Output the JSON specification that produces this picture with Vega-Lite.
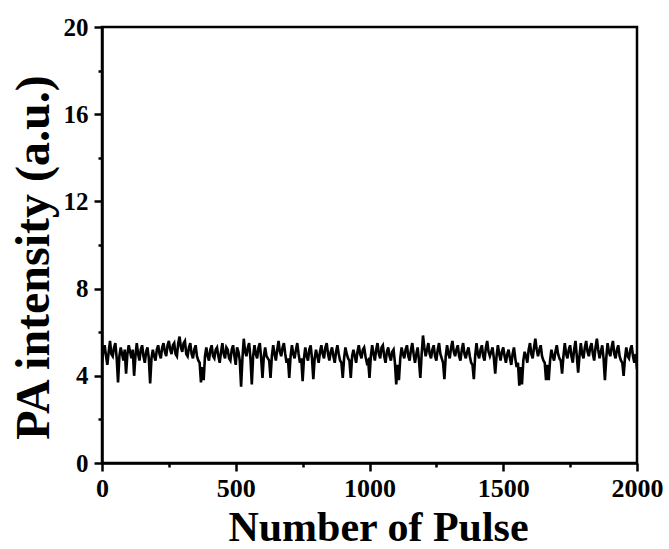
{
  "$schema": "https://vega.github.io/schema/vega-lite/v6.json",
  "autosize": {"type": "none"},
  "width": 535,
  "height": 436,
  "padding": {"left": 102, "top": 27, "right": 32, "bottom": 86},
  "background": "white",
  "config": {
    "view": {"stroke": "black", "strokeWidth": 2.5},
    "axis": {"grid": false}
  },
  "data": {"values": [
    {"pulse":0,"pa":4.6},{"pulse":5,"pa":5.2},{"pulse":10,"pa":5.4},{"pulse":15,"pa":4.9},{"pulse":20,"pa":4.5},{"pulse":25,"pa":5.1},{"pulse":30,"pa":5.6},{"pulse":35,"pa":5.0},{"pulse":40,"pa":4.9},{"pulse":45,"pa":5.3},
    {"pulse":50,"pa":5.5},{"pulse":55,"pa":4.8},{"pulse":60,"pa":3.7},{"pulse":65,"pa":4.9},{"pulse":70,"pa":5.3},{"pulse":75,"pa":5.0},{"pulse":80,"pa":4.7},{"pulse":85,"pa":5.2},{"pulse":90,"pa":4.1},{"pulse":95,"pa":5.0},
    {"pulse":100,"pa":5.4},{"pulse":105,"pa":5.1},{"pulse":110,"pa":4.8},{"pulse":115,"pa":5.2},{"pulse":120,"pa":4.0},{"pulse":125,"pa":4.9},{"pulse":130,"pa":5.5},{"pulse":135,"pa":5.0},{"pulse":140,"pa":4.7},{"pulse":145,"pa":5.2},
    {"pulse":150,"pa":5.4},{"pulse":155,"pa":4.9},{"pulse":160,"pa":4.6},{"pulse":165,"pa":5.1},{"pulse":170,"pa":5.3},{"pulse":175,"pa":4.8},{"pulse":180,"pa":3.65},{"pulse":185,"pa":4.8},{"pulse":190,"pa":5.2},{"pulse":195,"pa":4.9},
    {"pulse":200,"pa":4.7},{"pulse":205,"pa":5.2},{"pulse":210,"pa":5.4},{"pulse":215,"pa":5.0},{"pulse":220,"pa":4.8},{"pulse":225,"pa":5.3},{"pulse":230,"pa":5.5},{"pulse":235,"pa":5.1},{"pulse":240,"pa":4.9},{"pulse":245,"pa":5.4},
    {"pulse":250,"pa":5.6},{"pulse":255,"pa":5.2},{"pulse":260,"pa":5.0},{"pulse":265,"pa":5.4},{"pulse":270,"pa":5.5},{"pulse":275,"pa":5.0},{"pulse":280,"pa":4.9},{"pulse":285,"pa":5.5},{"pulse":290,"pa":5.8},{"pulse":295,"pa":5.3},
    {"pulse":300,"pa":5.1},{"pulse":305,"pa":5.5},{"pulse":310,"pa":5.6},{"pulse":315,"pa":5.0},{"pulse":320,"pa":4.9},{"pulse":325,"pa":5.3},{"pulse":330,"pa":5.5},{"pulse":335,"pa":5.0},{"pulse":340,"pa":4.8},{"pulse":345,"pa":5.2},
    {"pulse":350,"pa":5.4},{"pulse":355,"pa":4.9},{"pulse":360,"pa":4.7},{"pulse":365,"pa":4.6},{"pulse":370,"pa":3.7},{"pulse":375,"pa":4.4},{"pulse":380,"pa":3.8},{"pulse":385,"pa":4.9},{"pulse":390,"pa":5.3},{"pulse":395,"pa":4.9},
    {"pulse":400,"pa":4.7},{"pulse":405,"pa":5.2},{"pulse":410,"pa":5.4},{"pulse":415,"pa":4.9},{"pulse":420,"pa":4.8},{"pulse":425,"pa":5.2},{"pulse":430,"pa":5.3},{"pulse":435,"pa":4.9},{"pulse":440,"pa":4.6},{"pulse":445,"pa":5.1},
    {"pulse":450,"pa":5.5},{"pulse":455,"pa":5.0},{"pulse":460,"pa":4.8},{"pulse":465,"pa":5.3},{"pulse":470,"pa":5.2},{"pulse":475,"pa":4.8},{"pulse":480,"pa":4.7},{"pulse":485,"pa":5.2},{"pulse":490,"pa":5.4},{"pulse":495,"pa":4.9},
    {"pulse":500,"pa":4.5},{"pulse":505,"pa":5.3},{"pulse":510,"pa":5.1},{"pulse":515,"pa":4.7},{"pulse":520,"pa":3.5},{"pulse":525,"pa":4.8},{"pulse":530,"pa":5.7},{"pulse":535,"pa":5.1},{"pulse":540,"pa":4.9},{"pulse":545,"pa":5.3},
    {"pulse":550,"pa":5.5},{"pulse":555,"pa":4.8},{"pulse":560,"pa":3.6},{"pulse":565,"pa":4.9},{"pulse":570,"pa":5.4},{"pulse":575,"pa":5.0},{"pulse":580,"pa":4.8},{"pulse":585,"pa":5.3},{"pulse":590,"pa":5.5},{"pulse":595,"pa":4.8},
    {"pulse":600,"pa":3.9},{"pulse":605,"pa":4.9},{"pulse":610,"pa":5.3},{"pulse":615,"pa":4.9},{"pulse":620,"pa":4.8},{"pulse":625,"pa":4.7},{"pulse":630,"pa":3.9},{"pulse":635,"pa":4.9},{"pulse":640,"pa":5.4},{"pulse":645,"pa":5.0},
    {"pulse":650,"pa":4.7},{"pulse":655,"pa":5.2},{"pulse":660,"pa":5.6},{"pulse":665,"pa":5.1},{"pulse":670,"pa":4.9},{"pulse":675,"pa":5.3},{"pulse":680,"pa":5.5},{"pulse":685,"pa":5.0},{"pulse":690,"pa":4.6},{"pulse":695,"pa":4.8},
    {"pulse":700,"pa":3.9},{"pulse":705,"pa":4.9},{"pulse":710,"pa":5.4},{"pulse":715,"pa":5.0},{"pulse":720,"pa":4.8},{"pulse":725,"pa":5.2},{"pulse":730,"pa":5.5},{"pulse":735,"pa":5.0},{"pulse":740,"pa":4.6},{"pulse":745,"pa":4.8},
    {"pulse":750,"pa":3.75},{"pulse":755,"pa":4.8},{"pulse":760,"pa":5.3},{"pulse":765,"pa":4.9},{"pulse":770,"pa":4.7},{"pulse":775,"pa":5.2},{"pulse":780,"pa":5.4},{"pulse":785,"pa":4.8},{"pulse":790,"pa":3.85},{"pulse":795,"pa":4.8},
    {"pulse":800,"pa":5.2},{"pulse":805,"pa":4.9},{"pulse":810,"pa":4.6},{"pulse":815,"pa":5.1},{"pulse":820,"pa":5.4},{"pulse":825,"pa":5.0},{"pulse":830,"pa":4.8},{"pulse":835,"pa":5.3},{"pulse":840,"pa":5.5},{"pulse":845,"pa":5.0},
    {"pulse":850,"pa":4.7},{"pulse":855,"pa":5.1},{"pulse":860,"pa":5.3},{"pulse":865,"pa":4.9},{"pulse":870,"pa":4.6},{"pulse":875,"pa":5.1},{"pulse":880,"pa":5.4},{"pulse":885,"pa":5.0},{"pulse":890,"pa":4.7},{"pulse":895,"pa":4.6},
    {"pulse":900,"pa":3.9},{"pulse":905,"pa":4.8},{"pulse":910,"pa":5.3},{"pulse":915,"pa":5.0},{"pulse":920,"pa":4.8},{"pulse":925,"pa":4.7},{"pulse":930,"pa":3.9},{"pulse":935,"pa":4.9},{"pulse":940,"pa":5.2},{"pulse":945,"pa":4.9},
    {"pulse":950,"pa":4.6},{"pulse":955,"pa":5.1},{"pulse":960,"pa":5.4},{"pulse":965,"pa":5.0},{"pulse":970,"pa":4.8},{"pulse":975,"pa":5.2},{"pulse":980,"pa":5.3},{"pulse":985,"pa":4.9},{"pulse":990,"pa":4.6},{"pulse":995,"pa":4.7},
    {"pulse":1000,"pa":3.9},{"pulse":1005,"pa":4.9},{"pulse":1010,"pa":5.4},{"pulse":1015,"pa":5.0},{"pulse":1020,"pa":4.7},{"pulse":1025,"pa":5.2},{"pulse":1030,"pa":5.5},{"pulse":1035,"pa":5.0},{"pulse":1040,"pa":4.8},{"pulse":1045,"pa":5.3},
    {"pulse":1050,"pa":5.4},{"pulse":1055,"pa":4.9},{"pulse":1060,"pa":4.6},{"pulse":1065,"pa":5.1},{"pulse":1070,"pa":5.3},{"pulse":1075,"pa":4.9},{"pulse":1080,"pa":4.7},{"pulse":1085,"pa":5.1},{"pulse":1090,"pa":5.2},{"pulse":1095,"pa":4.6},
    {"pulse":1100,"pa":3.6},{"pulse":1105,"pa":4.5},{"pulse":1110,"pa":3.8},{"pulse":1115,"pa":4.8},{"pulse":1120,"pa":5.3},{"pulse":1125,"pa":5.0},{"pulse":1130,"pa":4.8},{"pulse":1135,"pa":5.2},{"pulse":1140,"pa":5.4},{"pulse":1145,"pa":4.9},
    {"pulse":1150,"pa":4.7},{"pulse":1155,"pa":5.2},{"pulse":1160,"pa":5.5},{"pulse":1165,"pa":5.0},{"pulse":1170,"pa":4.6},{"pulse":1175,"pa":5.0},{"pulse":1180,"pa":5.3},{"pulse":1185,"pa":4.7},{"pulse":1190,"pa":3.9},{"pulse":1195,"pa":5.0},
    {"pulse":1200,"pa":5.85},{"pulse":1205,"pa":5.3},{"pulse":1210,"pa":4.9},{"pulse":1215,"pa":5.2},{"pulse":1220,"pa":5.5},{"pulse":1225,"pa":5.0},{"pulse":1230,"pa":4.8},{"pulse":1235,"pa":5.2},{"pulse":1240,"pa":5.4},{"pulse":1245,"pa":4.9},
    {"pulse":1250,"pa":4.7},{"pulse":1255,"pa":5.2},{"pulse":1260,"pa":5.5},{"pulse":1265,"pa":5.0},{"pulse":1270,"pa":4.8},{"pulse":1275,"pa":4.6},{"pulse":1280,"pa":3.85},{"pulse":1285,"pa":4.9},{"pulse":1290,"pa":5.4},{"pulse":1295,"pa":5.0},
    {"pulse":1300,"pa":4.8},{"pulse":1305,"pa":5.3},{"pulse":1310,"pa":5.6},{"pulse":1315,"pa":5.1},{"pulse":1320,"pa":4.9},{"pulse":1325,"pa":5.2},{"pulse":1330,"pa":5.4},{"pulse":1335,"pa":4.9},{"pulse":1340,"pa":4.7},{"pulse":1345,"pa":5.2},
    {"pulse":1350,"pa":5.5},{"pulse":1355,"pa":5.0},{"pulse":1360,"pa":4.8},{"pulse":1365,"pa":5.1},{"pulse":1370,"pa":5.3},{"pulse":1375,"pa":4.9},{"pulse":1380,"pa":4.6},{"pulse":1385,"pa":4.5},{"pulse":1390,"pa":3.85},{"pulse":1395,"pa":4.9},
    {"pulse":1400,"pa":5.5},{"pulse":1405,"pa":5.0},{"pulse":1410,"pa":4.8},{"pulse":1415,"pa":5.2},{"pulse":1420,"pa":5.4},{"pulse":1425,"pa":4.9},{"pulse":1430,"pa":4.7},{"pulse":1435,"pa":5.3},{"pulse":1440,"pa":5.6},{"pulse":1445,"pa":5.1},
    {"pulse":1450,"pa":4.9},{"pulse":1455,"pa":5.1},{"pulse":1460,"pa":5.3},{"pulse":1465,"pa":4.8},{"pulse":1470,"pa":4.1},{"pulse":1475,"pa":4.9},{"pulse":1480,"pa":5.4},{"pulse":1485,"pa":5.0},{"pulse":1490,"pa":4.7},{"pulse":1495,"pa":5.1},
    {"pulse":1500,"pa":5.3},{"pulse":1505,"pa":4.9},{"pulse":1510,"pa":4.6},{"pulse":1515,"pa":5.0},{"pulse":1520,"pa":5.2},{"pulse":1525,"pa":4.8},{"pulse":1530,"pa":4.5},{"pulse":1535,"pa":5.0},{"pulse":1540,"pa":5.3},{"pulse":1545,"pa":4.8},
    {"pulse":1550,"pa":4.4},{"pulse":1555,"pa":4.6},{"pulse":1560,"pa":3.55},{"pulse":1565,"pa":4.4},{"pulse":1570,"pa":3.6},{"pulse":1575,"pa":4.7},{"pulse":1580,"pa":5.1},{"pulse":1585,"pa":4.9},{"pulse":1590,"pa":4.6},{"pulse":1595,"pa":5.2},
    {"pulse":1600,"pa":5.5},{"pulse":1605,"pa":5.0},{"pulse":1610,"pa":4.8},{"pulse":1615,"pa":5.3},{"pulse":1620,"pa":5.7},{"pulse":1625,"pa":5.2},{"pulse":1630,"pa":4.9},{"pulse":1635,"pa":5.2},{"pulse":1640,"pa":5.4},{"pulse":1645,"pa":4.9},
    {"pulse":1650,"pa":4.7},{"pulse":1655,"pa":4.6},{"pulse":1660,"pa":3.8},{"pulse":1665,"pa":4.5},{"pulse":1670,"pa":3.8},{"pulse":1675,"pa":4.7},{"pulse":1680,"pa":5.2},{"pulse":1685,"pa":4.9},{"pulse":1690,"pa":4.7},{"pulse":1695,"pa":5.1},
    {"pulse":1700,"pa":5.4},{"pulse":1705,"pa":5.0},{"pulse":1710,"pa":4.8},{"pulse":1715,"pa":4.7},{"pulse":1720,"pa":4.1},{"pulse":1725,"pa":4.9},{"pulse":1730,"pa":5.5},{"pulse":1735,"pa":5.0},{"pulse":1740,"pa":4.8},{"pulse":1745,"pa":5.2},
    {"pulse":1750,"pa":5.4},{"pulse":1755,"pa":4.9},{"pulse":1760,"pa":4.6},{"pulse":1765,"pa":5.2},{"pulse":1770,"pa":5.6},{"pulse":1775,"pa":4.9},{"pulse":1780,"pa":4.15},{"pulse":1785,"pa":4.9},{"pulse":1790,"pa":5.5},{"pulse":1795,"pa":5.0},
    {"pulse":1800,"pa":4.8},{"pulse":1805,"pa":5.3},{"pulse":1810,"pa":5.6},{"pulse":1815,"pa":5.1},{"pulse":1820,"pa":4.9},{"pulse":1825,"pa":5.3},{"pulse":1830,"pa":5.5},{"pulse":1835,"pa":5.0},{"pulse":1840,"pa":4.7},{"pulse":1845,"pa":5.3},
    {"pulse":1850,"pa":5.7},{"pulse":1855,"pa":5.2},{"pulse":1860,"pa":4.8},{"pulse":1865,"pa":5.1},{"pulse":1870,"pa":5.4},{"pulse":1875,"pa":4.8},{"pulse":1880,"pa":3.8},{"pulse":1885,"pa":4.8},{"pulse":1890,"pa":5.5},{"pulse":1895,"pa":5.1},
    {"pulse":1900,"pa":4.9},{"pulse":1905,"pa":5.3},{"pulse":1910,"pa":5.6},{"pulse":1915,"pa":5.0},{"pulse":1920,"pa":4.8},{"pulse":1925,"pa":5.2},{"pulse":1930,"pa":5.4},{"pulse":1935,"pa":4.9},{"pulse":1940,"pa":4.7},{"pulse":1945,"pa":4.6},
    {"pulse":1950,"pa":4.0},{"pulse":1955,"pa":4.8},{"pulse":1960,"pa":5.3},{"pulse":1965,"pa":4.9},{"pulse":1970,"pa":4.8},{"pulse":1975,"pa":5.2},{"pulse":1980,"pa":5.4},{"pulse":1985,"pa":4.9},{"pulse":1990,"pa":4.6},{"pulse":1995,"pa":5.0},
    {"pulse":2000,"pa":4.3}
  ]},
  "mark": {"type": "line", "color": "black", "strokeWidth": 2.6, "clip": true},
  "encoding": {
    "x": {"field": "pulse", "type": "quantitative",
      "scale": {"domain": [0, 2000], "nice": false, "zero": false},
      "axis": {"orient": "bottom", "values": [0, 250, 500, 750, 1000, 1250, 1500, 1750, 2000], "format": "d",
        "labelExpr": "datum.value % 500 === 0 ? datum.label : ''",
        "tickSize": {"condition": {"test": "datum.value % 500 === 0", "value": 8}, "value": 4},
        "tickWidth": 2.5, "tickColor": "black",
        "domainColor": "black", "domainWidth": 2.5, "labelFont": "Liberation Serif", "labelFontWeight": "bold", "labelFontSize": 26,
        "labelColor": "black", "labelPadding": 4, "labelFlush": false, "labelOverlap": false,
        "title": "Number of Pulse", "titleFont": "Liberation Serif", "titleFontWeight": "bold", "titleFontSize": 42,
        "titleColor": "black", "titlePadding": 6, "titleX": 276}},
    "y": {"field": "pa", "type": "quantitative",
      "scale": {"domain": [0, 20], "nice": false, "zero": false},
      "axis": {"orient": "left", "values": [0, 2, 4, 6, 8, 10, 12, 14, 16, 18, 20],
        "labelExpr": "datum.value % 4 === 0 ? datum.label : ''",
        "tickSize": {"condition": {"test": "datum.value % 4 === 0", "value": 8}, "value": 4},
        "tickWidth": 2.5, "tickColor": "black",
        "domainColor": "black", "domainWidth": 2.5, "labelFont": "Liberation Serif", "labelFontWeight": "bold", "labelFontSize": 25,
        "labelColor": "black", "labelPadding": 6, "labelFlush": false, "labelOverlap": false,
        "title": "PA intensity (a.u.)", "titleFont": "Liberation Serif", "titleFontWeight": "bold", "titleFontSize": 48,
        "titleColor": "black", "titlePadding": 5, "titleY": 230}}
  }
}
